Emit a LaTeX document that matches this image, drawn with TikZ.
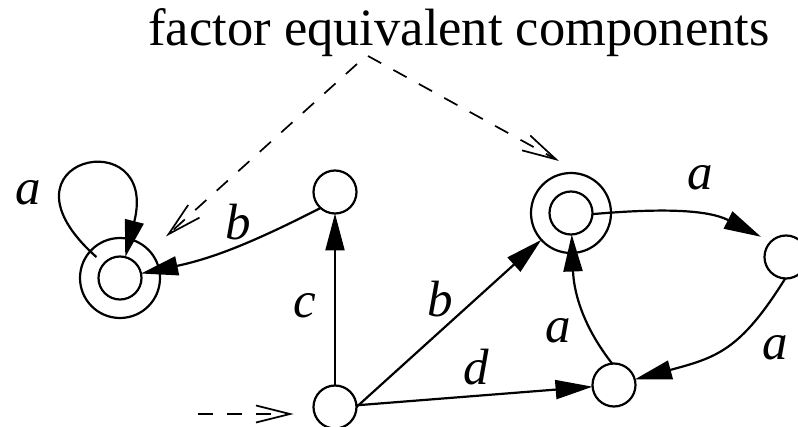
\documentclass[tikz,border=0pt]{standalone}
\usepackage{fontspec}
\setmainfont{Liberation Serif}
\usetikzlibrary{arrows.meta,calc}
\begin{document}
\begin{tikzpicture}[x=1pt,y=1pt,
  state/.style={circle,draw,line width=2.2pt,minimum size=43pt,inner sep=0pt,outer sep=0pt},
  outerring/.style={circle,draw,line width=2.2pt,minimum size=80pt,inner sep=0pt,outer sep=0pt},
  edge/.style={line width=2.2pt,-{Triangle[length=37pt,width=19pt]}},
  hint/.style={line width=1.7pt,dash pattern=on 15pt off 14pt,-{Straight Barb[length=34pt,width=17pt,line width=1.7pt]}},
  lbl/.style={anchor=base,font=\fontsize{51}{60}\selectfont\itshape,inner sep=0pt},
]
\path[use as bounding box] (0,0) rectangle (798,-427);

\node[anchor=base,font=\fontsize{52.5}{62}\selectfont,inner sep=0pt] (title) at (459,-46) {factor equivalent components};

\node[state] (Li) at (120,-278) {};
\node[outerring] (Lo) at (120,-278) {};
\node[state] (T) at (335,-192) {};
\node[state] (B) at (335,-407) {};
\node[state] (Ri) at (571,-213) {};
\node[outerring] (Ro) at (571,-213) {};
\node[state] (RC) at (786,-257) {};
\node[state] (BR) at (614,-385) {};

\node[lbl] (la1) at (28,-205) {a};
\node[lbl] (lb1) at (238,-240) {b};
\node[lbl] (lc) at (305,-318) {c};
\node[lbl] (lb2) at (440,-317) {b};
\node[lbl] (ld) at (476,-385) {d};
\node[lbl] (la2) at (700,-190) {a};
\node[lbl] (la3) at (558,-343) {a};
\node[lbl] (la4) at (775,-360) {a};

\draw[edge,shorten <=10pt] (Li) .. controls (-15,-158) and (160,-120) .. (Li);
\draw[edge] (T.228) to[out=207,in=12] (Li);
\draw[edge] (B) -- (T);
\draw[edge] (B.east) -- (Ro);
\draw[edge] (B) -- (BR);
\draw[edge,shorten >=11pt] (Ri.-3) to[out=5,in=153] (RC.135);
\draw[edge] (RC.268) to[out=238,in=15,looseness=1.2] (BR);
\draw[edge] (BR.95) to[out=128,in=-88] (Ri);

\coordinate (s1) at (357,-64);
\coordinate (s2) at (368,-56);
\coordinate (t2) at (559,-161);
\coordinate (s0) at (198,-414);
\draw[hint,shorten >=22pt] (s1) -- (Lo);
\draw[hint] (s2) -- (t2);
\draw[hint,shorten >=20pt] (s0) -- (s0 -| B.west);
\end{tikzpicture}
\end{document}
